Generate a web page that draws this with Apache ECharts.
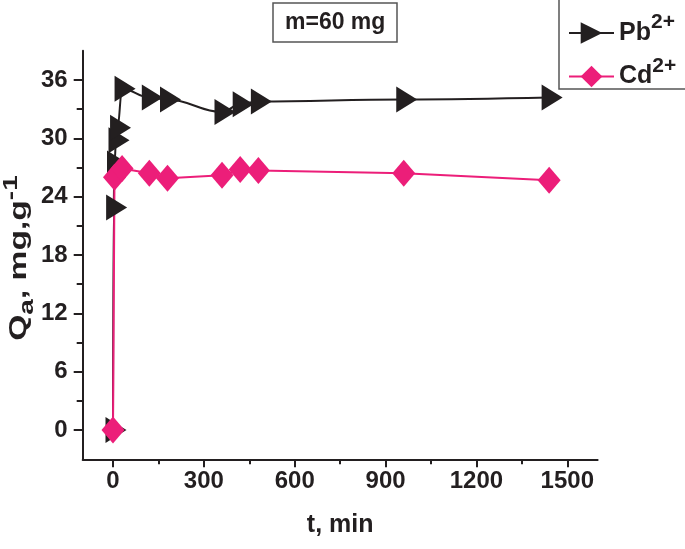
<!DOCTYPE html>
<html>
<head>
<meta charset="utf-8">
<script src="https://cdn.jsdelivr.net/npm/echarts@6/dist/echarts.min.js"></script>
<style>
html,body{margin:0;padding:0;background:#fff;}
#c{width:685px;height:549px;}
</style>
</head>
<body>
<div id="c"></div>
<script>
// Data
const pbTime = [0, 2, 5, 10, 15, 30, 120, 180, 360, 420, 480, 960, 1440];
const pbQ    = [0, 22.9, 27.4, 29.8, 31.1, 35.1, 34.2, 34.0, 32.7, 33.5, 33.8, 34.0, 34.2];
const cdTime = [0, 5, 30, 120, 180, 360, 420, 480, 960, 1440];
const cdQ    = [0, 26.0, 26.9, 26.4, 25.9, 26.2, 26.8, 26.7, 26.4, 25.7];
const xTicks = [0, 300, 600, 900, 1200, 1500];
const xMinorTicks = [150, 450, 750, 1050, 1350];
const yTicks = [0, 6, 12, 18, 24, 30, 36];
const yMinorTicks = [3, 9, 15, 21, 27, 33];

const FONT = "'Liberation Sans', Arial, sans-serif";
const INK = '#231f20';
const PINK = '#ec1e79';
const TRI = 'path://M0,0 L10,6.4 L0,12.8 Z';

const pbData = pbTime.map((t, i) => [t, pbQ[i]]);
const cdData = cdTime.map((t, i) => [t, cdQ[i]]);

const chart = echarts.init(document.getElementById('c'), null, {renderer: 'canvas'});
chart.setOption({
  animation: false,
  backgroundColor: '#fff',
  title: {
    text: 'm=60 mg',
    left: 273, top: 3,
    padding: [8, 12, 7, 12],
    borderColor: '#555', borderWidth: 1.5,
    textStyle: {fontFamily: FONT, fontWeight: 'bold', fontSize: 23, color: INK, lineHeight: 24}
  },
  legend: {
    left: 559, top: -1,
    orient: 'vertical',
    padding: [13, 10, 0, 9],
    itemGap: 10,
    itemWidth: 45, itemHeight: 27,
    borderColor: '#555', borderWidth: 1.5,
    data: ['Pb', 'Cd'],
    formatter: function (n) { return '{b|' + n + '}{sup|2+}'; },
    textStyle: {
      fontFamily: FONT, fontWeight: 'bold', color: INK,
      rich: {
        b: {fontFamily: FONT, fontWeight: 'bold', fontSize: 25, color: INK, lineHeight: 42},
        sup: {fontFamily: FONT, fontWeight: 'bold', fontSize: 21, color: INK, lineHeight: 19, verticalAlign: 'top'}
      }
    }
  },
  graphic: [{
    type: 'text',
    x: 19, y: 258,
    rotation: Math.PI / 2,
    scaleX: 1.4,
    style: {
      text: '{q|Q}{sub|a}{q|, mg,g}{sup|-1}',
      align: 'center', verticalAlign: 'middle',
      fill: INK,
      rich: {
        q: {fontFamily: FONT, fontWeight: 'bold', fontSize: 24, fill: INK, lineHeight: 36},
        sub: {fontFamily: FONT, fontWeight: 'bold', fontSize: 20, fill: INK, lineHeight: 18, verticalAlign: 'bottom'},
        sup: {fontFamily: FONT, fontWeight: 'bold', fontSize: 20, fill: INK, lineHeight: 18, verticalAlign: 'top'}
      }
    }
  }],
  grid: {left: 82.7, right: 87.4, top: 50.8, bottom: 89.7, containLabel: false, outerBoundsMode: 'none'},
  xAxis: [{
    type: 'value', min: -100, max: 1600, position: 'bottom',
    axisLine: {show: true, onZero: false, lineStyle: {color: INK, width: 2}},
    axisTick: {show: true, customValues: xTicks, length: 8, lineStyle: {color: INK, width: 2}},
    axisLabel: {show: true, customValues: xTicks, margin: 10, formatter: v => String(v),
      fontFamily: FONT, fontWeight: 'bold', fontSize: 24, color: INK},
    splitLine: {show: false},
    name: 't, min', nameLocation: 'middle', nameGap: 53, nameMoveOverlap: false,
    nameTextStyle: {fontFamily: FONT, fontWeight: 'bold', fontSize: 25, color: INK}
  }, {
    type: 'value', min: -100, max: 1600, position: 'bottom',
    axisLine: {show: false, onZero: false},
    axisTick: {show: true, customValues: xMinorTicks, length: 5, lineStyle: {color: INK, width: 2}},
    axisLabel: {show: false},
    splitLine: {show: false}
  }],
  yAxis: [{
    type: 'value', min: -3, max: 39, position: 'left',
    axisLine: {show: true, onZero: false, lineStyle: {color: INK, width: 2}},
    axisTick: {show: true, customValues: yTicks, length: 9, lineStyle: {color: INK, width: 2}},
    axisLabel: {show: true, customValues: yTicks, margin: 15, formatter: v => String(v),
      fontFamily: FONT, fontWeight: 'bold', fontSize: 24, color: INK},
    splitLine: {show: false}
  }, {
    type: 'value', min: -3, max: 39, position: 'left',
    axisLine: {show: false, onZero: false},
    axisTick: {show: true, customValues: yMinorTicks, length: 6, lineStyle: {color: INK, width: 2}},
    axisLabel: {show: false},
    splitLine: {show: false}
  }],
  series: [{
    name: 'Pb', type: 'line', xAxisIndex: 0, yAxisIndex: 0,
    data: pbData,
    smooth: 0.4, smoothMonotone: 'x',
    symbol: TRI, symbolSize: [21, 26], symbolOffset: [3, 0],
    itemStyle: {color: INK},
    lineStyle: {color: INK, width: 2},
    clip: false
  }, {
    name: 'Cd', type: 'line', xAxisIndex: 0, yAxisIndex: 0,
    data: cdData,
    smooth: false,
    symbol: 'diamond', symbolSize: [23, 27],
    itemStyle: {color: PINK},
    lineStyle: {color: PINK, width: 2},
    clip: false
  }]
});
</script>
</body>
</html>
